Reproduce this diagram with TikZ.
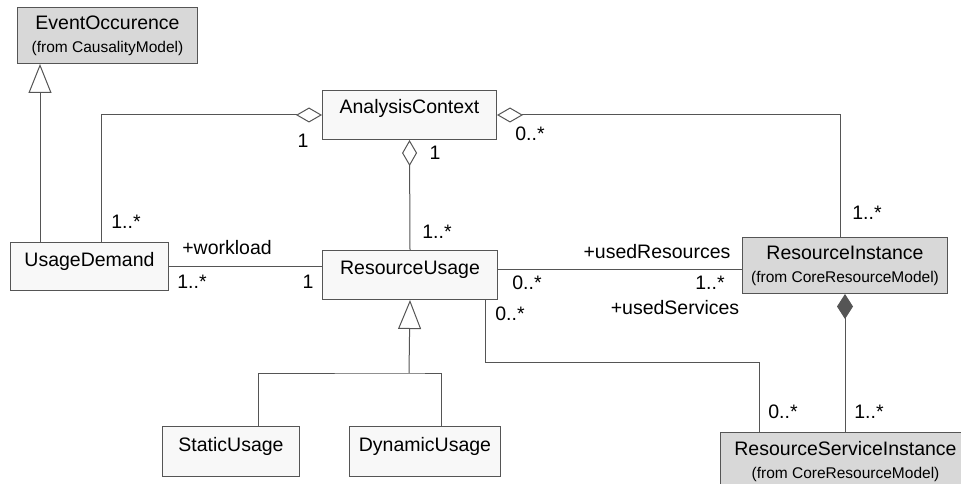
\documentclass[tikz,border=0pt]{standalone}
\usepackage{fontspec}
\setmainfont{Liberation Sans}
\usetikzlibrary{arrows.meta}
\definecolor{linegray}{RGB}{85,85,85}
\definecolor{boxwhite}{RGB}{248,248,248}
\definecolor{boxgray}{RGB}{216,216,216}
\newcommand\frompkg[1]{{\fontsize{15.5}{18}\selectfont(from #1)}}

\begin{document}
\begin{tikzpicture}[x=1pt,y=-1pt,
    every node/.style={font=\fontsize{19.5}{23}\selectfont},
    cls/.style={draw=linegray,fill=boxwhite,line width=1pt,anchor=north west,inner sep=0pt,text height=23.5pt,text depth=25.5pt},
    ext/.style={draw=linegray,fill=boxgray,line width=1pt,anchor=north west,inner sep=0pt,align=center,minimum height=56pt},
    link/.style={draw=linegray,line width=1pt},
    agg/.style={link,-{Diamond[open,length=26pt,width=15pt]}},
    comp/.style={link,-{Diamond[length=25pt,width=16pt]}},
    gen/.style={link,-{Triangle[open,length=29pt,width=23pt]}}]
    \useasboundingbox (0,0) rectangle (961,484);

    % classes
    \node[ext,minimum width=180pt] (eo) at (17,7) {EventOccurence\\\frompkg{CausalityModel}};
    \node[cls,minimum width=174pt] (ac) at (322,90) {AnalysisContext};
    \node[cls,minimum width=158pt,text depth=24pt] (ud) at (10,242) {UsageDemand};
    \node[cls,minimum width=175pt] (ru) at (322,250) {ResourceUsage};
    \node[ext,minimum width=205pt] (ri) at (742,237) {ResourceInstance\\\frompkg{CoreResourceModel}};
    \node[cls,minimum width=137pt,text height=25pt,text depth=25pt] (su) at (162,426) {StaticUsage};
    \node[cls,minimum width=151pt,text height=25pt,text depth=25pt] (du) at (349,426) {DynamicUsage};
    \node[ext,minimum width=250pt,minimum height=58pt] (rsi) at (720,432) {ResourceServiceInstance\\\frompkg{CoreResourceModel}};

    % bends
    \coordinate (svc) at (759,362);
    \coordinate (fork) at (409,373);

    % relations
    \draw[gen] ([xshift=30pt]ud.north west) -- ([xshift=30pt]ud.north west |- eo.south);
    \draw[agg] ([xshift=91pt]ud.north west) |- (ac.west);
    \draw[agg] (ru.north) -- (ac.south);
    \draw[agg] ([xshift=-5pt]ri.north) |- (ac.east);
    \draw[link] (ud.east) -- (ud.east -| ru.west);
    \draw[link] ([yshift=-4pt]ri.west) -- ([yshift=-4pt]ri.west -| ru.east);
    \draw[link] ([xshift=-13pt]ru.south east) |- (svc) -- (svc |- rsi.north);
    \draw[comp] (ri.south |- rsi.north) -- (ri.south);
    \draw[gen] (fork) -- (ru.south);
    \draw[link] ([xshift=96pt]su.north west) |- (fork) -| ([xshift=92pt]du.north west);

    % roles and multiplicities
    \foreach \x/\y/\t [count=\i] in {126/222/1..*, 303/141/1, 530/134/0..*, 867/213/1..*,
        435/153/1, 437/232/1..*, 227/248/+workload, 192/282/1..*, 308/282/1,
        657/252/+usedResources, 527/283/0..*, 710/283/1..*, 675/308/+usedServices,
        510/314/0..*, 783/412/0..*, 869/412/1..*}
        \node (m\i) at (\x,\y) {\t};
\end{tikzpicture}
\end{document}
